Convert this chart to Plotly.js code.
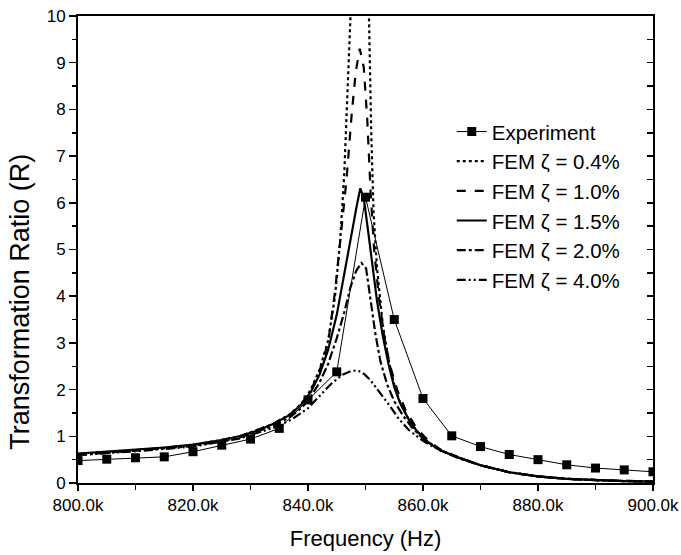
<!DOCTYPE html>
<html>
<head>
<meta charset="utf-8">
<script src="https://cdn.plot.ly/plotly-3.0.1.min.js"></script>
<style>html,body{margin:0;padding:0;background:#fff;}#chart{width:681px;height:555px;}</style>
</head>
<body>
<div id="chart"></div>
<script>
// Frequencies in kHz
const expF = [800,805,810,815,820,825,830,835,840,845,850,855,860,865,870,875,880,885,890,895,900];
const expR = [0.48,0.51,0.54,0.56,0.67,0.81,0.94,1.17,1.78,2.38,6.12,3.50,1.81,1.01,0.78,0.61,0.50,0.39,0.32,0.28,0.24];

const fem04F = [800,810,820,828,834,837,839,840.5,842,843.5,844.7,845.6,846.3,846.9,847.4,848.2,849,849.8,850.3,850.6,851.0,851.4,852,853,854,855,856,858,860,863,866,870,875,880,885,890,895,900];
const fem04R = [0.62,0.70,0.81,0.99,1.27,1.48,1.72,2.0,2.42,3.05,4.0,5.2,6.6,8.3,10.0,13.5,15.0,13.5,11.5,10.0,7.5,5.8,4.6,3.4,2.65,2.1,1.72,1.25,0.96,0.70,0.55,0.38,0.23,0.14,0.09,0.06,0.04,0.03];

const fem10F = [800,810,820,828,834,837,839,840.5,842,843.5,844.7,845.8,846.7,847.6,848.3,849,849.7,850.3,850.9,851.5,852.3,853.3,854.3,855.5,857,859,861,863,866,870,875,880,885,890,895,900];
const fem10R = [0.62,0.70,0.81,0.99,1.27,1.48,1.72,1.98,2.40,3.0,4.1,5.4,6.5,7.9,8.8,9.3,8.9,7.8,6.2,5.0,4.0,3.1,2.5,2.0,1.55,1.15,0.90,0.72,0.56,0.38,0.23,0.14,0.09,0.06,0.04,0.03];

const fem15F = [800,805,810,815,820,825,828,831,834,837,839,840.5,842,843.5,845,846.5,847.5,848.5,849.1,849.7,850.5,851.3,852,853,854,855,856,857.5,859,861,863,866,870,875,880,885,890,895,900];
const fem15R = [0.63,0.67,0.71,0.76,0.82,0.92,1.00,1.11,1.27,1.47,1.70,1.95,2.32,2.85,3.6,4.6,5.35,5.95,6.31,6.1,5.35,4.55,3.9,3.15,2.55,2.05,1.72,1.36,1.10,0.86,0.70,0.55,0.38,0.23,0.14,0.09,0.06,0.04,0.03];

const fem20F = [800,810,820,828,834,837,839,840.5,842,843.5,845,846.3,847.4,848.4,849.3,850.1,850.9,851.7,852.6,853.8,855,856.5,858,860,863,866,870,875,880,885,890,895,900];
const fem20R = [0.60,0.69,0.79,0.97,1.22,1.42,1.62,1.85,2.15,2.55,3.1,3.65,4.2,4.55,4.71,4.6,3.93,3.21,2.6,2.1,1.75,1.45,1.2,0.95,0.70,0.54,0.38,0.23,0.14,0.09,0.06,0.04,0.03];

const fem40F = [800,810,820,828,834,837,840,842,844,846,847.5,848.7,849.8,850.8,852.6,854.3,855.8,857.5,859.8,862,865,870,875,880,885,890,895,900];
const fem40R = [0.60,0.68,0.78,0.95,1.18,1.35,1.60,1.86,2.12,2.32,2.40,2.41,2.33,2.21,1.93,1.64,1.37,1.14,0.92,0.76,0.60,0.38,0.23,0.14,0.09,0.06,0.04,0.03];

const seriesNames = ['Experiment','FEM ζ = 0.4%','FEM ζ = 1.0%','FEM ζ = 1.5%','FEM ζ = 2.0%','FEM ζ = 4.0%'];
const xTickVals = [800,820,840,860,880,900];
const xTickText = ['800.0k','820.0k','840.0k','860.0k','880.0k','900.0k'];
const xTitle = 'Frequency (Hz)';
const yTitle = 'Transformation Ratio (R)';

const FONT = 'Liberation Sans, Arial, sans-serif';

function fem(x, y, name, dash) {
  return {x: x, y: y, name: name, type: 'scatter', mode: 'lines',
    line: {color: '#000', width: 2.2, dash: dash}, hoverinfo: 'skip'};
}

const traces = [
  {x: expF, y: expR, name: seriesNames[0], type: 'scatter', mode: 'lines+markers',
   line: {color: '#000', width: 1}, marker: {symbol: 'square', size: 9, color: '#000'}},
  fem(fem04F, fem04R, seriesNames[1], 'dot'),
  fem(fem10F, fem10R, seriesNames[2], 'dash'),
  fem(fem15F, fem15R, seriesNames[3], 'solid'),
  fem(fem20F, fem20R, seriesNames[4], 'dashdot'),
  fem(fem40F, fem40R, seriesNames[5], '9px,3px,2px,3px,2px,3px'),
  {x: [800], y: [0], yaxis: 'y2', type: 'scatter', mode: 'markers', showlegend: false,
   marker: {opacity: 0}, hoverinfo: 'skip'}
];

const layout = {
  width: 681, height: 555,
  margin: {l: 78, r: 28, t: 16, b: 72},
  paper_bgcolor: '#fff', plot_bgcolor: '#fff',
  font: {family: FONT, color: '#000', size: 17},
  showlegend: true,
  legend: {x: 0.65, y: 0.795, xanchor: 'left', yanchor: 'top', bgcolor: 'rgba(0,0,0,0)',
    font: {family: FONT, size: 20.5, color: '#000'}, itemwidth: 30},
  xaxis: {range: [800, 900], tickmode: 'array', tickvals: xTickVals, ticktext: xTickText,
    ticks: 'outside', ticklen: 6, tickwidth: 1.5, tickcolor: '#000',
    showline: true, linewidth: 2, linecolor: '#000', mirror: true,
    showgrid: false, zeroline: false,
    minor: {dtick: 10, tick0: 800, ticks: 'outside', ticklen: 5, tickwidth: 1.5, tickcolor: '#000', showgrid: false},
    tickfont: {size: 17, family: FONT},
    title: {text: xTitle, font: {size: 22, family: FONT}, standoff: 16}},
  yaxis: {range: [0, 10], dtick: 1, tick0: 0,
    ticks: 'outside', ticklen: 7, tickwidth: 1.5, tickcolor: '#000',
    showline: true, linewidth: 2, linecolor: '#000',
    showgrid: false, zeroline: false,
    minor: {dtick: 0.5, ticks: 'outside', ticklen: 4, tickwidth: 1.5, tickcolor: '#000', showgrid: false},
    tickfont: {size: 17, family: FONT}},
  yaxis2: {overlaying: 'y', side: 'right', range: [0, 10], dtick: 1, tick0: 0,
    ticks: 'inside', ticklen: 6, tickwidth: 1.5, tickcolor: '#000',
    showline: true, linewidth: 2, linecolor: '#000', showticklabels: false,
    showgrid: false, zeroline: false,
    minor: {dtick: 0.5, ticks: 'inside', ticklen: 6, tickwidth: 1.5, tickcolor: '#000', showgrid: false}},
  annotations: [{text: yTitle, xref: 'paper', yref: 'paper', x: -0.101, y: 0.388,
    xanchor: 'center', yanchor: 'middle', textangle: -90, showarrow: false,
    font: {size: 27, family: FONT, color: '#000'}}]
};

Plotly.newPlot('chart', traces, layout, {displayModeBar: false, staticPlot: true});
</script>
</body>
</html>
